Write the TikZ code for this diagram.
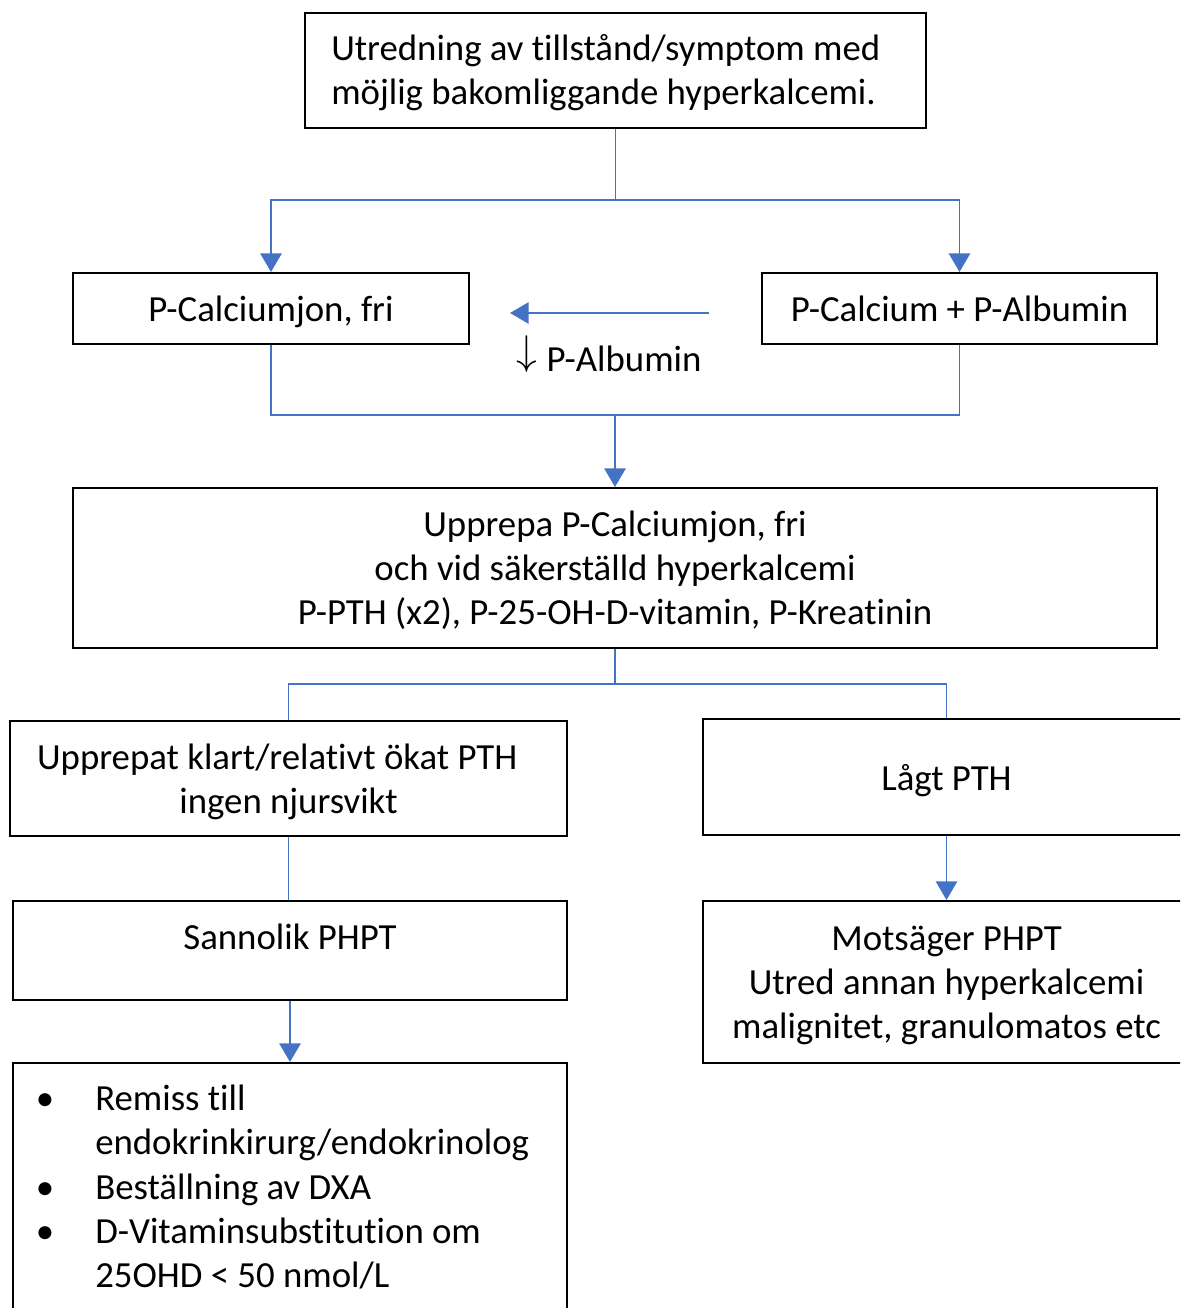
\documentclass[tikz,border=0pt]{standalone}
\usepackage{fontspec}
\usepackage{graphicx}
\setmainfont{Carlito}[Ligatures=NoCommon]
\usetikzlibrary{arrows.meta}
\definecolor{connblue}{HTML}{4472C4}
\begin{document}
\begin{tikzpicture}[x=0.75pt,y=-0.75pt,
  every node/.style={font=\fontsize{27.6}{33}\selectfont},
  box/.style={draw=black,line width=1.5pt,fill=white,inner sep=0pt,align=center,text depth=0pt},
  plainbox/.style={draw=black,line width=1.5pt,fill=white,inner sep=0pt},
  conn/.style={draw=connblue,line width=1.45pt},
  arr/.style={conn,-{Triangle[width=16pt,length=14pt]}},
  ]
\clip (0,0) rectangle (1180,1308);
\fill[white] (0,0) rectangle (1180,1308);

% boxes
\node[plainbox,minimum width=465.75pt,minimum height=86.25pt] (top) at (615.5,70.5) {};
\node[anchor=west,inner sep=0pt,text width=426.75pt,align=flush left] (toptext) at (331,72.5)
  {Utredning av tillstånd/symptom med\\möjlig bakomliggande hyperkalcemi.};
\node[box,minimum width=297pt,minimum height=53.25pt] (pcf) at (271,308.5) {P-Calciumjon, fri};
\node[box,minimum width=296.25pt,minimum height=53.25pt] (pca) at (959.5,308.5) {P-Calcium + P-Albumin};
\node[box,minimum width=813pt,minimum height=120pt] (big) at (615,568)
  {Upprepa P-Calciumjon, fri\\och vid säkerställd hyperkalcemi\\P-PTH (x2), P-25-OH-D-vitamin, P-Kreatinin};
\node[box,minimum width=417.75pt,minimum height=86.25pt] (upp) at (288.5,778.5)
  {Upprepat klart/relativt ökat PTH\kern17pt\\ingen njursvikt};
\node[box,minimum width=365.25pt,minimum height=87pt] (lagt) at (946.5,777) {Lågt PTH};
\node[plainbox,minimum width=415.5pt,minimum height=74.25pt] (sann) at (290,950.5) {};
\node[text depth=0pt] (sanntext) at (290,937) {Sannolik PHPT};
\node[box,minimum width=365.25pt,minimum height=121.5pt] (mot) at (946.5,982)
  {Motsäger PHPT\\Utred annan hyperkalcemi\\malignitet, granulomatos etc};
\node[plainbox,minimum width=415.5pt,minimum height=200.25pt] (bul) at (290,1196.5) {};

% bullet list
\node[anchor=base,inner sep=0pt] (d1) at (45,1110) {•};
\node[anchor=base west,inner sep=0pt] (l1) at (95,1110) {Remiss till};
\node[anchor=base west,inner sep=0pt] (l2) at (95,1154) {endokrinkirurg/endokrinolog};
\node[anchor=base,inner sep=0pt] (d3) at (45,1199) {•};
\node[anchor=base west,inner sep=0pt] (l3) at (95,1199) {Beställning av DXA};
\node[anchor=base,inner sep=0pt] (d4) at (45,1243) {•};
\node[anchor=base west,inner sep=0pt] (l4) at (95,1243) {D-Vitaminsubstitution om};
\node[anchor=base west,inner sep=0pt] (l5) at (95,1287) {25OHD < 50 nmol/L};

% connectors
\coordinate (j1) at (615.5,200);
\draw[conn] (top.south) -- (j1);
\draw[arr] (j1) -| (pcf.north);
\draw[arr] (j1) -| (pca.north);

\coordinate (j2) at (615,415);
\draw[conn] (pcf.south) |- (j2);
\draw[conn] (pca.south) |- (j2);
\draw[arr] (j2) -- (big.north);

\coordinate (j3) at (615,684);
\draw[conn] (big.south) -- (j3);
\draw[conn] (j3) -| (upp.north);
\draw[conn] (j3) -| (lagt.north);

\draw[conn] (upp.south) -- (upp.south |- sann.north);
\draw[arr] (sann.south) -- (bul.north);
\draw[arr] (lagt.south) -- (mot.north);

\coordinate (a1) at (709,313);
\coordinate (a2) at (510,313);
\draw[arr] (a1) -- (a2);
\node[anchor=base] (alb) at (609,372) {\raisebox{5.5pt}{\scalebox{1.25}{$\downarrow$}}\kern7pt P-Albumin};
\end{tikzpicture}
\end{document}
